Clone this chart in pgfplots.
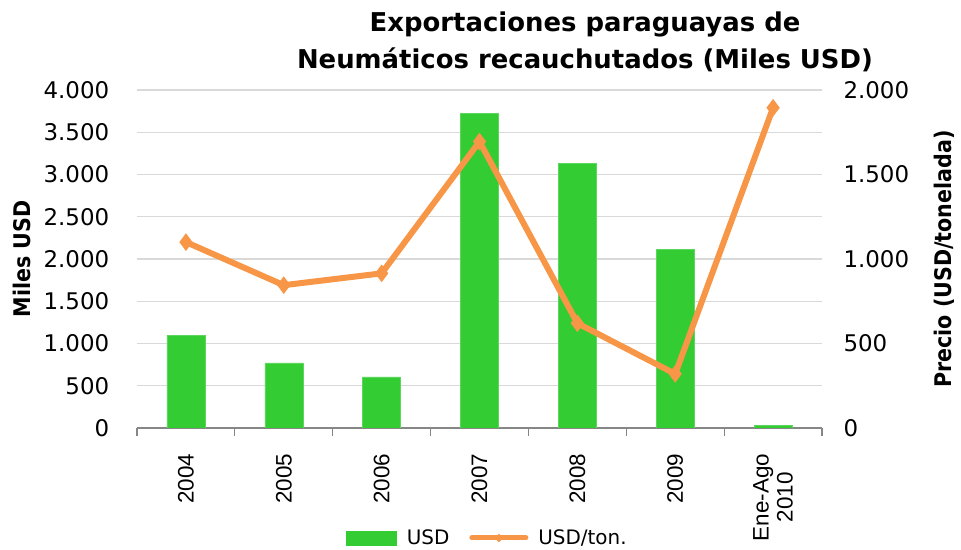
\documentclass[border=0pt]{standalone}
\usepackage{fontspec}
\usepackage{pgfplots}
\pgfplotsset{compat=1.18}
\setmainfont{DejaVu Sans}
\newfontfamily\arialf{Liberation Sans}
\newfontfamily\tbold{DejaVu Sans Condensed}
\definecolor{barg}{HTML}{33CC33}
\definecolor{lineo}{HTML}{F79646}
\definecolor{gridg}{HTML}{D9D9D9}
\definecolor{axg}{HTML}{868686}
\begin{document}
\begin{tikzpicture}[x=1bp,y=1bp]
\useasboundingbox (0,0) rectangle (961,550);
\begin{axis}[at={(137bp,122bp)}, anchor=south west, scale only axis,
  width=685bp, height=338bp,
  xmin=-0.5, xmax=6.5, ymin=0, ymax=4000,
  xtick={0,...,6},
  xticklabels={2004,2005,2006,2007,2008,2009,{Ene-Ago\\2010}},
  xticklabel style={rotate=90, anchor=east, align=center, font=\arialf\fontsize{22.5}{24}\selectfont, xshift=-18bp},
  major x tick style={draw=none},
  minor xtick={-0.5,0.5,...,6.5},
  minor x tick style={draw=axg, line width=1.2bp},
  minor tick length=8bp,
  tick align=outside,
  ytick={0,500,...,4000},
  y tick style={draw=none},
  ymajorgrids, grid style={gridg, line width=1.2bp},
  axis y line*=left, axis x line*=bottom,
  y axis line style={draw=none},
  x axis line style={draw=axg, line width=1.2bp, -},
  yticklabel style={font=\fontsize{23}{25}\selectfont, xshift=-20bp, /pgf/number format/.cd, 1000 sep={.}, assume math mode=true},
  ylabel={Miles USD},
  every axis y label/.style={at={(-115bp,0.5)}, rotate=90, anchor=center, font=\tbold\bfseries\fontsize{23}{25}\selectfont},
]
\addplot[ybar, bar width=38bp, fill=barg, draw=barg!80!white] coordinates {
(0,1100) (1,770) (2,605) (3,3720) (4,3130) (5,2110) (6,30)};
\end{axis}
\begin{axis}[at={(137bp,122bp)}, anchor=south west, scale only axis,
  width=685bp, height=338bp,
  xmin=-0.5, xmax=6.5, ymin=0, ymax=2000,
  axis x line=none,
  axis y line*=right,
  y axis line style={draw=none},
  y tick style={draw=none},
  ytick={0,500,...,2000},
  yticklabel style={font=\fontsize{23}{25}\selectfont, xshift=18bp, /pgf/number format/.cd, 1000 sep={.}, assume math mode=true},
  ylabel={Precio (USD/tonelada)},
  every axis y label/.style={at={(1,0.5)}, xshift=122bp, rotate=90, anchor=center, font=\tbold\bfseries\fontsize{23}{25}\selectfont},
  legend style={at={(0.5,0)}, yshift=-110bp, xshift=8bp, anchor=center, draw=none, fill=none,
    legend columns=2, font=\fontsize{20}{22}\selectfont,
    /tikz/every odd column/.append style={column sep=8bp},
    /tikz/every even column/.append style={column sep=18bp}},
]
\addlegendimage{legend image code/.code={\fill[barg] (0bp,-7bp) rectangle (50bp,7bp);}}
\addlegendentry{USD}
\addplot[lineo, line width=6bp, mark=diamond*, mark size=8bp, mark options={fill=lineo, draw=lineo, line width=1bp}, forget plot] coordinates {
(0,1100) (1,845) (2,915) (3,1695) (4,620) (5,320) (6,1895)};
\addlegendimage{legend image code/.code={\draw[lineo, line width=5bp, line cap=round] (0bp,0bp) -- (54bp,0bp); \fill[lineo] (27bp,-4bp) -- (31bp,0bp) -- (27bp,4bp) -- (23bp,0bp) -- cycle;}}
\addlegendentry{USD/ton.}
\end{axis}
\node[font=\bfseries\fontsize{26}{37}\selectfont, align=center, anchor=north] at (585,542) {Exportaciones paraguayas de\\Neumáticos recauchutados (Miles USD)};
\end{tikzpicture}
\end{document}
